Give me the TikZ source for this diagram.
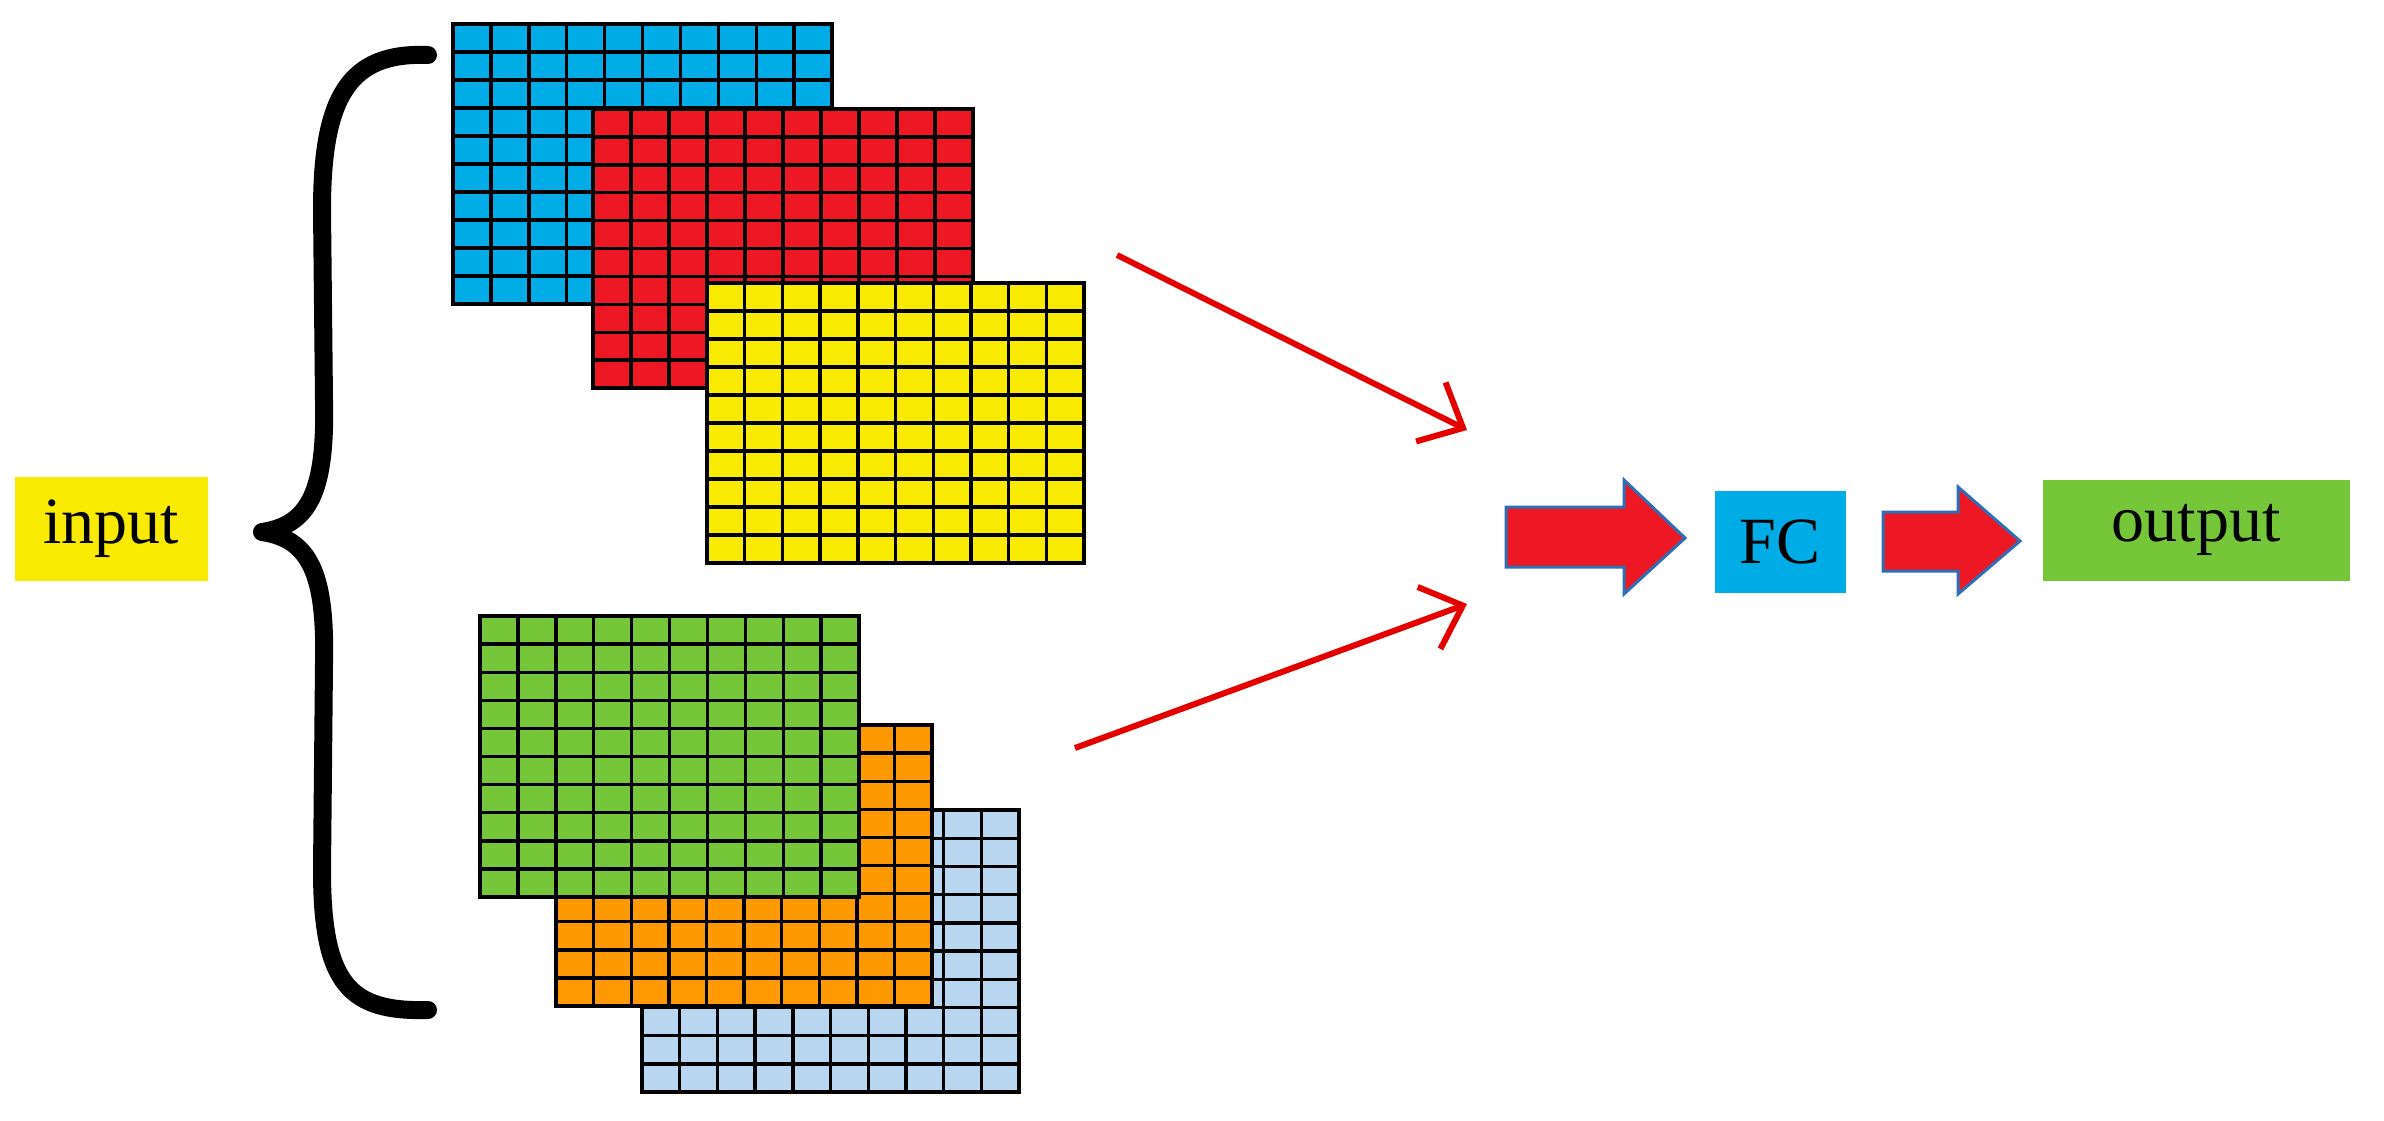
\documentclass[tikz,border=0pt]{standalone}
\usepackage{fontspec}
\setmainfont{Liberation Serif}
\usetikzlibrary{arrows.meta}
\definecolor{cblue}{RGB}{0,172,230}
\definecolor{cred}{RGB}{237,24,36}
\definecolor{cyel}{RGB}{248,234,0}
\definecolor{cgreen}{RGB}{118,198,58}
\definecolor{corange}{RGB}{255,153,0}
\definecolor{clblue}{RGB}{184,214,240}
\definecolor{carrowedge}{RGB}{46,110,180}
\newcommand\gridsheet[5]{%
  \fill[#5] (#1,#2) rectangle (#3,#4);
  \foreach \i in {0,...,10}{
    \draw[gridline] ({#1+(#3-#1)*\i/10},#2) -- ({#1+(#3-#1)*\i/10},#4);
    \draw[gridline] (#1,{#2+(#4-#2)*\i/10}) -- (#3,{#2+(#4-#2)*\i/10});
  }}
\begin{document}
\begin{tikzpicture}[x=1pt,y=-1pt,
  gridline/.style={line width=3.4pt,black,line cap=rect},
  lbl/.style={inner sep=0pt,font=\fontsize{66}{80}\selectfont,text=black},
  redarrow/.style={red!90!black,line width=6pt,-{Straight Barb[length=36pt,width=66pt,line width=6pt]}},
  blockarrow/.style={fill=cred,draw=carrowedge,line width=3pt,line join=miter}]
\fill[white] (0,0) rectangle (2384,1121);
\useasboundingbox (0,0) rectangle (2384,1121);
% top stack
\gridsheet{453}{24}{832}{304}{cblue}
\gridsheet{593}{109}{973}{388}{cred}
\gridsheet{707}{283}{1084}{563}{cyel}
% bottom stack
\gridsheet{642}{810}{1019}{1092}{clblue}
\gridsheet{556}{725}{932}{1006}{corange}
\gridsheet{480}{616}{859}{897}{cgreen}
% input
\node[fill=cyel,minimum width=193pt,minimum height=104pt,lbl] (input) at (111,529) {input};
% brace
\draw[line width=18pt,line cap=round,line join=round] (428,55) .. controls (350,52) and (322,95) .. (322,210)
  -- (324,400) .. controls (326,490) and (310,525) .. (262,532)
  .. controls (310,539) and (326,574) .. (324,664) -- (322,870)
  .. controls (322,985) and (350,1012) .. (428,1010);
% thin arrows
\coordinate (t1) at (1117,255);
\coordinate (t2) at (1075,748);
\coordinate (m) at (1467,430);
\coordinate (m2) at (1467,604);
\draw[redarrow] (t1) -- (m);
\draw[redarrow] (t2) -- (m2);
% FC and output
\node[fill=cblue,minimum width=131pt,minimum height=102pt,lbl] (fc) at (1780,542) {FC};
\node[fill=cgreen,minimum width=307pt,minimum height=101pt,lbl] (out) at (2196,530) {output};
% block arrows
\draw[blockarrow] (1506,507) -- (1624,507) -- (1624,480) -- (1685,538) -- (1624,594) -- (1624,567) -- (1506,567) -- cycle;
\draw[blockarrow] (1883,512) -- (1958,512) -- (1958,487) -- (2020,541) -- (1958,594) -- (1958,571) -- (1883,571) -- cycle;
\end{tikzpicture}
\end{document}
